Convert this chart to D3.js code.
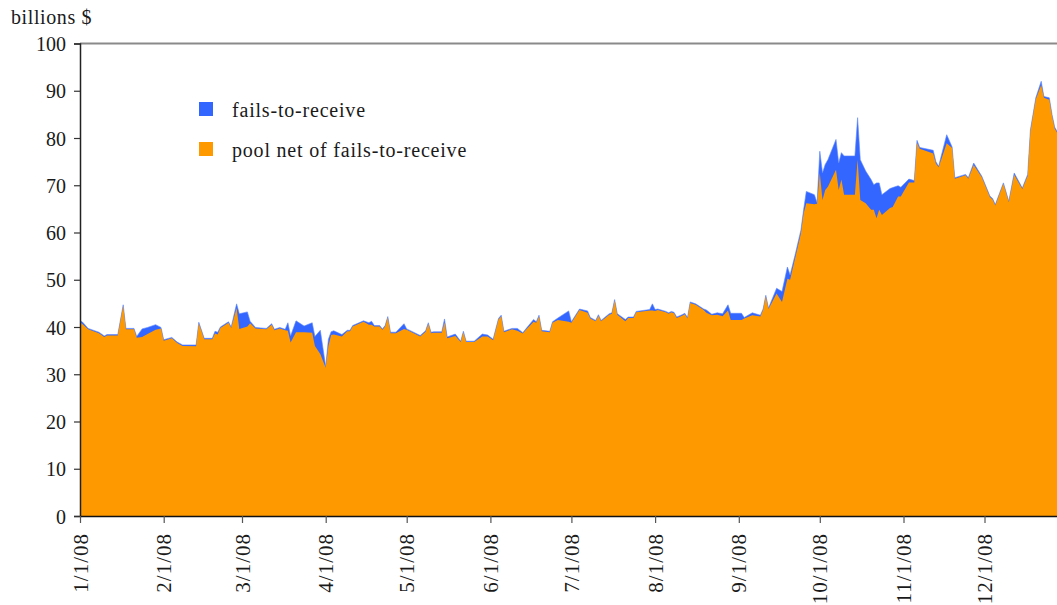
<!DOCTYPE html>
<html>
<head>
<meta charset="utf-8">
<script src="https://cdn.jsdelivr.net/npm/d3@7"></script>
<style>
  html, body { margin: 0; padding: 0; background: #fff; }
  svg { display: block; }
  text { font-family: "Liberation Serif", "DejaVu Serif", serif; fill: #1a1a1a; }
</style>
</head>
<body>
<svg id="chart" width="1057" height="605"></svg>
<script>
// ---- data (billions $) ----
const dates = [
 "2008-01-01","2008-01-02","2008-01-04","2008-01-08","2008-01-10","2008-01-11","2008-01-15","2008-01-17","2008-01-18","2008-01-21",
 "2008-01-22","2008-01-24","2008-01-26","2008-01-29","2008-01-31","2008-02-01","2008-02-04","2008-02-06","2008-02-08","2008-02-13",
 "2008-02-14","2008-02-16","2008-02-19","2008-02-20","2008-02-21","2008-02-22","2008-02-25","2008-02-26","2008-02-28","2008-02-29",
 "2008-03-03","2008-03-04","2008-03-06","2008-03-10","2008-03-12","2008-03-13","2008-03-15","2008-03-17","2008-03-18","2008-03-19",
 "2008-03-21","2008-03-24","2008-03-27","2008-03-28","2008-03-30","2008-04-01","2008-04-02","2008-04-03","2008-04-04","2008-04-07",
 "2008-04-09","2008-04-10","2008-04-11","2008-04-15","2008-04-17","2008-04-18","2008-04-19","2008-04-21","2008-04-22","2008-04-23",
 "2008-04-24","2008-04-25","2008-04-27","2008-04-30","2008-05-01","2008-05-06","2008-05-08","2008-05-09","2008-05-10","2008-05-11",
 "2008-05-14","2008-05-15","2008-05-16","2008-05-19","2008-05-21","2008-05-22","2008-05-23","2008-05-26","2008-05-29","2008-05-31",
 "2008-06-02","2008-06-04","2008-06-05","2008-06-06","2008-06-09","2008-06-11","2008-06-13","2008-06-14","2008-06-17","2008-06-18",
 "2008-06-19","2008-06-20","2008-06-23","2008-06-24","2008-06-26","2008-06-30","2008-07-01","2008-07-04","2008-07-07","2008-07-08",
 "2008-07-10","2008-07-11","2008-07-12","2008-07-15","2008-07-16","2008-07-17","2008-07-18","2008-07-21","2008-07-22","2008-07-24",
 "2008-07-25","2008-07-30","2008-07-31","2008-08-01","2008-08-02","2008-08-05","2008-08-06","2008-08-07","2008-08-08","2008-08-09",
 "2008-08-11","2008-08-12","2008-08-13","2008-08-14","2008-08-16","2008-08-19","2008-08-20","2008-08-22","2008-08-24","2008-08-26",
 "2008-08-28","2008-08-29","2008-09-02","2008-09-03","2008-09-06","2008-09-09","2008-09-10","2008-09-11","2008-09-12","2008-09-15",
 "2008-09-17","2008-09-19","2008-09-20","2008-09-22","2008-09-24","2008-09-25","2008-09-26","2008-09-29","2008-09-30","2008-10-01",
 "2008-10-02","2008-10-03","2008-10-04","2008-10-07","2008-10-08","2008-10-09","2008-10-10","2008-10-14","2008-10-15","2008-10-16",
 "2008-10-18","2008-10-20","2008-10-21","2008-10-22","2008-10-23","2008-10-24","2008-10-27","2008-10-28","2008-10-30","2008-10-31",
 "2008-11-03","2008-11-05","2008-11-06","2008-11-07","2008-11-12","2008-11-13","2008-11-14","2008-11-17","2008-11-19","2008-11-20",
 "2008-11-24","2008-11-25","2008-11-27","2008-11-30","2008-12-03","2008-12-04","2008-12-05","2008-12-08","2008-12-10","2008-12-12",
 "2008-12-15","2008-12-17","2008-12-18","2008-12-20","2008-12-22","2008-12-23","2008-12-25","2008-12-26","2008-12-27","2008-12-28"
];
const poolNet = [
 41.0,40.6,39.5,38.7,37.9,38.2,38.2,44.5,39.5,39.5,
 37.7,37.9,38.5,39.4,39.7,37.1,37.6,36.6,36.0,35.9,
 40.8,37.4,37.4,38.6,38.4,39.8,40.9,39.8,44.0,39.6,
 40.1,40.8,39.7,39.5,40.5,39.3,39.7,39.3,39.2,36.7,
 38.9,38.9,38.8,36.0,34.3,31.4,36.0,38.3,38.4,38.0,
 39.1,39.1,40.1,41.1,40.5,40.5,40.1,40.1,39.4,40.1,
 42.0,38.7,38.7,39.6,39.4,38.0,39.0,40.7,38.7,38.8,
 38.8,41.0,37.6,38.1,36.8,38.9,36.8,36.8,38.0,38.0,
 37.2,41.6,42.3,38.9,39.5,39.2,38.6,39.3,41.1,40.9,
 42.3,39.1,38.9,40.9,41.5,41.1,40.9,43.6,43.0,41.8,
 41.2,42.4,41.2,42.6,42.8,45.6,42.6,41.2,41.9,41.9,
 43.1,43.5,43.5,43.4,43.6,43.1,42.8,43.1,42.9,41.9,
 42.4,42.7,41.8,45.1,44.7,43.6,43.0,42.5,42.6,42.3,
 43.5,41.5,41.5,41.8,42.5,42.2,43.6,46.5,43.8,47.1,
 45.3,50.2,50.0,54.9,59.8,64.0,66.2,66.0,66.1,72.6,
 66.9,69.0,69.7,73.3,69.0,71.2,68.0,68.0,75.4,66.9,
 66.2,64.8,64.8,63.0,64.8,63.7,65.2,65.4,67.6,67.6,
 70.6,70.6,79.0,77.7,76.7,74.6,73.8,78.9,77.9,71.4,
 72.1,71.4,74.3,71.7,67.5,67.0,65.7,70.3,66.4,72.2,
 69.2,72.0,81.4,88.2,91.2,88.5,88.1,84.7,82.0,81.0
];
const failsToReceive = [
 0.4,0.4,0.2,0.2,0.2,0.2,0.2,0.2,0.2,0.2,
 0.3,1.7,1.4,1.1,0.2,0.2,0.2,0.2,0.2,0.3,
 0.2,0.2,0.2,0.5,0.5,0.2,0.2,0.2,0.9,3.2,
 3.1,0.4,0.2,0.2,0.2,0.2,0.2,0.2,1.7,1.4,
 2.4,1.3,2.1,2.0,5.0,0.2,1.4,0.7,0.8,0.4,
 0.2,0.2,0.2,0.2,0.4,0.7,0.2,0.2,0.2,0.2,
 0.2,0.2,0.2,1.1,0.2,0.2,0.2,0.2,0.2,0.2,
 0.2,0.7,0.3,0.4,0.2,0.2,0.2,0.2,0.5,0.3,
 0.2,0.2,0.2,0.2,0.2,0.5,0.2,0.2,0.5,0.2,
 0.2,0.2,0.2,0.2,0.4,2.3,0.2,0.2,0.4,0.2,
 0.2,0.2,0.2,0.2,0.2,0.2,0.2,0.4,0.2,0.2,
 0.2,0.2,1.4,0.3,0.2,0.2,0.2,0.2,0.2,0.2,
 0.2,0.2,0.2,0.2,0.2,0.2,0.6,0.2,0.4,0.5,
 1.2,1.4,1.4,0.2,0.5,0.3,0.2,0.2,0.2,1.1,
 2.2,2.5,1.0,0.7,0.7,0.8,2.5,2.0,0.2,4.6,
 5.7,5.4,5.7,6.4,5.7,5.7,8.2,8.2,8.9,8.5,
 6.8,6.4,5.3,7.5,5.7,4.3,4.1,4.1,2.3,2.0,
 0.7,0.4,0.5,0.3,0.7,0.4,0.2,1.8,0.2,0.2,
 0.2,0.2,0.4,0.2,0.2,0.2,0.2,0.2,0.2,0.4,
 0.2,0.3,0.3,0.3,0.8,0.3,0.4,0.3,0.3,0.3
];
const seriesNames = ["fails-to-receive", "pool net of fails-to-receive"];
const seriesColors = ["#3366FF", "#FF9900"];
const yTicks = [0,10,20,30,40,50,60,70,80,90,100];
const xTickDates = ["2008-01-01","2008-02-01","2008-03-01","2008-04-01","2008-05-01","2008-06-01",
                    "2008-07-01","2008-08-01","2008-09-01","2008-10-01","2008-11-01","2008-12-01"];
const yTitle = "billions $";

(function () {
// ---- layout ----
const W = 1057, H = 605;
const mLeft = 80, mTop = 43.5, mBottom = 516;
const parse = d3.timeParse("%Y-%m-%d");
const rows = dates.map((d, i) => ({ date: parse(d), net: poolNet[i], total: poolNet[i] + failsToReceive[i] }));

const svg = d3.select("#chart");
svg.append("rect").attr("width", W).attr("height", H).attr("fill", "#fff");

const x = d3.scaleTime()
  .domain([parse("2008-01-01"), parse("2009-01-01")])
  .range([mLeft, mLeft + 366 * 2.700]);
const y = d3.scaleLinear().domain([0, 100]).range([mBottom, mTop]);

svg.append("clipPath").attr("id", "plotclip")
  .append("rect").attr("x", mLeft).attr("y", 0).attr("width", W - mLeft).attr("height", mBottom);

const plot = svg.append("g").attr("clip-path", "url(#plotclip)");

const areaTotal = d3.area().x(d => x(d.date)).y0(y(0)).y1(d => y(d.total));
const areaNet = d3.area().x(d => x(d.date)).y0(y(0)).y1(d => y(d.net));

plot.append("path").datum(rows).attr("d", areaTotal)
  .attr("fill", seriesColors[0]).attr("stroke", "#5a86ff").attr("stroke-width", 0.6).attr("stroke-linejoin", "round");
plot.append("path").datum(rows).attr("d", areaNet).attr("fill", seriesColors[1]);

// top border
svg.append("line").attr("x1", mLeft).attr("x2", W).attr("y1", y(100)).attr("y2", y(100))
  .attr("stroke", "#8a8a8a").attr("stroke-width", 2);

// y axis
const yAxis = d3.axisLeft(y).tickValues(yTicks).tickSize(6).tickPadding(8).tickFormat(d3.format("d"));
const gy = svg.append("g").attr("transform", `translate(${mLeft},0)`).call(yAxis);
gy.attr("font-family", null);
gy.select(".domain").attr("stroke", "#222").attr("stroke-width", 1.5);
gy.selectAll(".tick line").attr("stroke", "#333").attr("stroke-width", 1.2);
gy.selectAll(".tick text").attr("font-size", 20)
  .attr("fill", "#1a1a1a").attr("dy", "0.36em");

// x axis
const xAxis = d3.axisBottom(x).tickValues(xTickDates.map(parse)).tickSize(7).tickFormat(d3.timeFormat("%-m/%-d/%y"));
const gx = svg.append("g").attr("transform", `translate(0,${mBottom})`).call(xAxis);
gx.attr("font-family", null);
gx.select(".domain").attr("d", `M${mLeft},0.5H${W}`).attr("stroke", "#111").attr("stroke-width", 1.5);
gx.selectAll(".tick line").attr("stroke", "#555").attr("stroke-width", 1.2);
gx.selectAll(".tick text")
  .attr("font-size", 21).attr("fill", "#1a1a1a")
  .attr("letter-spacing", 1.0)
  .attr("transform", "rotate(-90)")
  .attr("text-anchor", "end")
  .attr("x", -17).attr("y", 0).attr("dy", "0.34em");

// y title
svg.append("text").attr("x", 11).attr("y", 23.5).attr("font-size", 20).attr("letter-spacing", 0.6).text(yTitle);

// legend
const legend = svg.append("g");
const legendRows = [{ name: seriesNames[0], color: seriesColors[0], yy: 102 }, { name: seriesNames[1], color: seriesColors[1], yy: 142 }];
legendRows.forEach(r => {
  legend.append("rect").attr("x", 199).attr("y", r.yy).attr("width", 14).attr("height", 14).attr("fill", r.color);
  legend.append("text").attr("x", 232).attr("y", r.yy + 14.5).attr("font-size", 20).attr("letter-spacing", 0.8).text(r.name);
});
})();
</script>
</body>
</html>
